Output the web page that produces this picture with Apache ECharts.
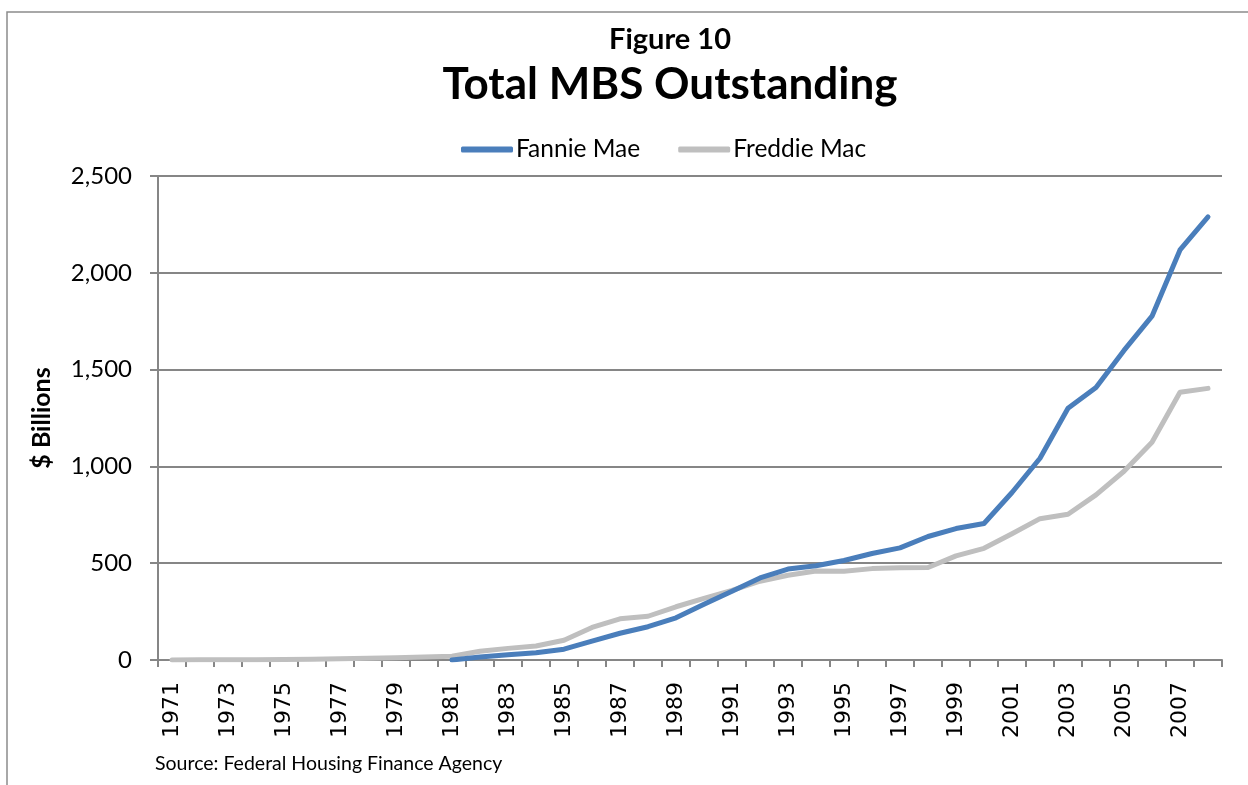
<!DOCTYPE html>
<html>
<head>
<meta charset="utf-8">
<script src="https://cdn.jsdelivr.net/npm/echarts@6/dist/echarts.min.js"></script>
<style>
  html, body { margin: 0; padding: 0; background: #fff; }
  #chart { width: 1248px; height: 785px; }
</style>
</head>
<body>
<div id="chart"></div>
<script>
// years on the category axis
var years = [];
for (var y = 1971; y <= 2008; y++) years.push(String(y));

// $ billions
var fannieMae = [null, null, null, null, null, null, null, null, null, null,
  0, 15, 27, 37, 56, 98, 138, 172, 218, 288, 355, 424, 470, 487, 514, 550, 579,
  638, 679, 705, 865, 1042, 1300, 1408, 1599, 1776, 2118, 2289];
var freddieMac = [0, 1, 1, 1, 2, 4, 6, 9, 12, 16,
  20, 45, 60, 72, 102, 168, 213, 226, 275, 318, 360, 407, 438, 460, 458, 472, 476,
  478, 538, 577, 652, 730, 753, 853, 975, 1125, 1383, 1403];

var yTicks = [0, 500, 1000, 1500, 2000, 2500];

var chart = echarts.init(document.getElementById('chart'));
var axisGrey = '#868686';
var font = 'Lato, "Open Sans", sans-serif';

chart.setOption({
  animation: false,
  backgroundColor: '#fff',
  textStyle: { fontFamily: font, color: '#000' },
  title: [
    { text: 'Figure 10', left: 665, top: 20, textAlign: 'center',
      textStyle: { fontFamily: font, fontSize: 29, fontWeight: 'bold', color: '#000' } },
    { text: 'Total MBS Outstanding', left: 665, top: 58, textAlign: 'center',
      textStyle: { fontFamily: font, fontSize: 44, fontWeight: 'bold', color: '#000' } }
  ],
  legend: {
    top: 132, left: 456,
    itemWidth: 52, itemHeight: 6, itemGap: 38,
    icon: 'roundRect',
    textStyle: { fontFamily: font, fontSize: 24.5, color: '#000', padding: [0, 0, 0, -2] },
    data: ['Fannie Mae', 'Freddie Mac']
  },
  grid: { left: 158, right: 26, top: 176, bottom: 125, containLabel: false },
  xAxis: {
    type: 'category',
    data: years,
    boundaryGap: true,
    axisLine: { lineStyle: { color: axisGrey, width: 2 } },
    axisTick: { show: true, interval: 0, length: 7, lineStyle: { color: axisGrey, width: 2 } },
    axisLabel: { interval: 1, rotate: 90, fontSize: 22, color: '#000', margin: 22,
      fontFamily: '"DejaVu Sans", sans-serif' }
  },
  yAxis: {
    type: 'value',
    min: yTicks[0], max: yTicks[yTicks.length - 1], interval: 500,
    name: '$ Billions',
    nameLocation: 'middle',
    nameGap: 104,
    nameRotate: 90,
    nameTextStyle: { fontFamily: font, fontSize: 25, fontWeight: 'bold', color: '#000' },
    axisLine: { show: true, lineStyle: { color: axisGrey, width: 2 } },
    axisTick: { show: true, length: 8, lineStyle: { color: axisGrey, width: 2 } },
    splitLine: { lineStyle: { color: axisGrey, width: 2 } },
    axisLabel: {
      fontSize: 24, color: '#000', margin: 26, fontFamily: font,
      formatter: function (v) { return v.toLocaleString('en-US'); }
    }
  },
  series: [
    { name: 'Fannie Mae', type: 'line', data: fannieMae, showSymbol: false, symbol: 'none',
      color: '#4a7ebb', lineStyle: { width: 5, color: '#4a7ebb', cap: 'round', join: 'round' } },
    { name: 'Freddie Mac', type: 'line', data: freddieMac, showSymbol: false, symbol: 'none',
      color: '#bfbfbf', lineStyle: { width: 5, color: '#bfbfbf', cap: 'round', join: 'round' }, z: 1 }
  ],
  graphic: [
    { type: 'rect', shape: { x: 7, y: 12, width: 1260, height: 800 },
      style: { fill: 'none', stroke: '#8c8c8c', lineWidth: 1.5 }, silent: true },
    { type: 'text', left: 155, top: 754,
      style: { text: 'Source: Federal Housing Finance Agency', fontFamily: font, fontSize: 19.5, fill: '#000' } }
  ]
});
</script>
</body>
</html>
